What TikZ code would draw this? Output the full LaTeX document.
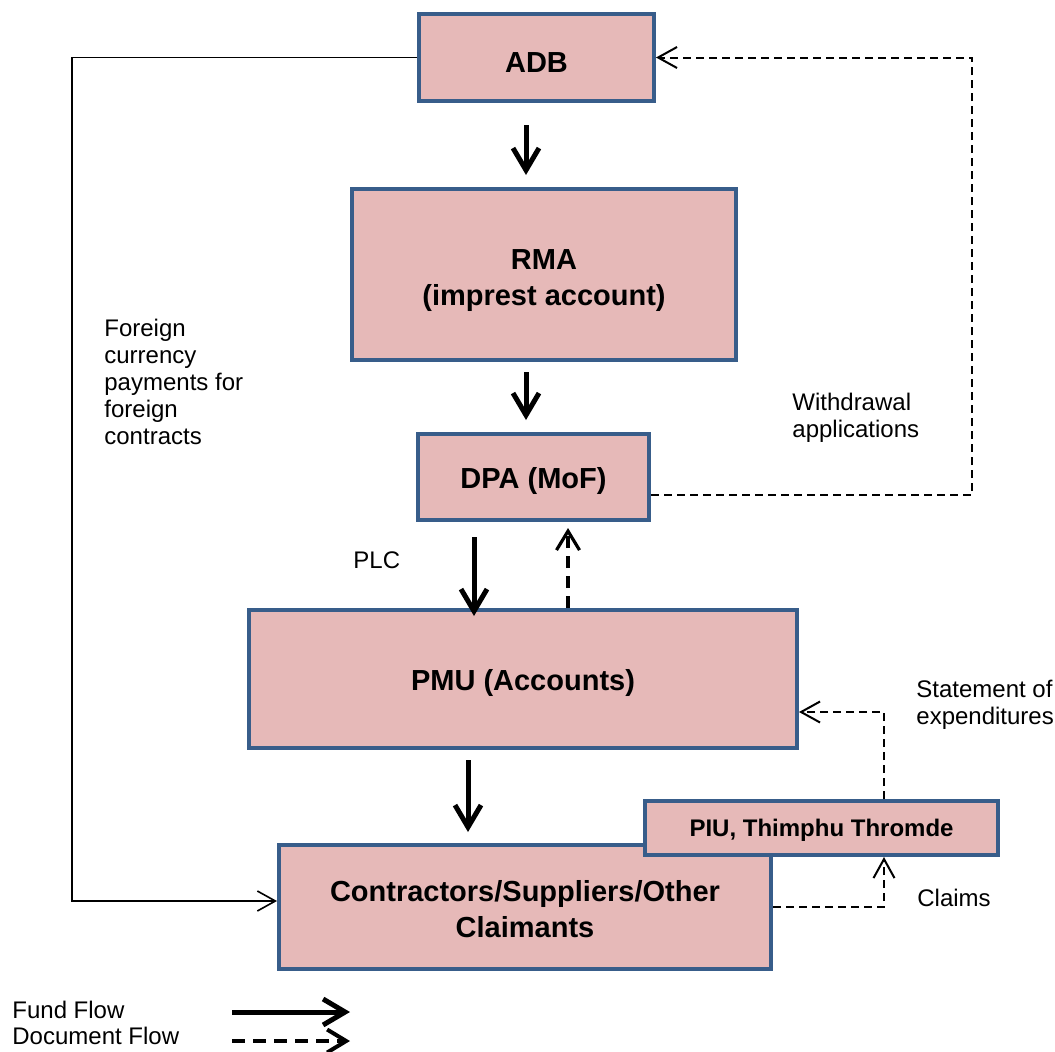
\documentclass[tikz,border=0pt]{standalone}
\usepackage{fontspec}
\setmainfont{Liberation Sans}
\usetikzlibrary{arrows.meta, positioning, calc}
\definecolor{boxFill}{RGB}{230, 185, 184}
\definecolor{boxLine}{RGB}{56, 93, 138}

\begin{document}
\begin{tikzpicture}[
    x=0.5pt, y=-0.5pt,
    unit/.style={rectangle, draw=boxLine, line width=2pt, fill=boxFill, align=center, font=\fontsize{14.5}{18}\selectfont\bfseries},
    oneline/.style={unit, text height=14.5pt},
    lbl/.style={inner sep=0pt, align=left, anchor=west, font=\fontsize{12}{13.5}\selectfont},
    fund/.style={-{Straight Barb[length=11pt, width=13pt]}, line width=2.5pt},
    docthick/.style={-{Straight Barb[length=9.5pt, width=11.5pt]}, line width=1.6pt, dash pattern=on 6pt off 4pt},
    doc/.style={-{Straight Barb[length=9.5pt, width=10.5pt]}, line width=1pt, dash pattern=on 4pt off 2.5pt},
    pay/.style={-{Straight Barb[length=9pt, width=10pt]}, line width=0.8pt}
]
    \useasboundingbox (0,0) rectangle (1055,1051);

    % Units
    \node[oneline, minimum width=117.5pt, minimum height=43.5pt] (adb) at (536.5,57.5) {ADB};
    \node[unit, minimum width=192pt, minimum height=85.5pt, text height=33.5pt] (rma) at (544,274.5) {RMA\\(imprest account)};
    \node[oneline, minimum width=115.5pt, minimum height=43pt] (dpa) at (533.5,477) {DPA (MoF)};
    \node[oneline, minimum width=274pt, minimum height=69pt] (pmu) at (523,679) {PMU (Accounts)};
    \node[unit, minimum width=246pt, minimum height=62pt, text height=31pt] (con) at (525,907) {Contractors/Suppliers/Other\\Claimants};
    \node[oneline, minimum width=176.5pt, minimum height=27pt, text height=11pt, font=\fontsize{12}{14}\selectfont\bfseries] (piu) at (821.5,828) {PIU, Thimphu Thromde};

    % Labels
    \node[lbl] (fx) at (104,381.5) {Foreign\\currency\\payments for\\foreign\\contracts};
    \node[lbl] (wa) at (792,417.5) {Withdrawal\\applications};
    \node[lbl] (plc) at (353,560) {PLC};
    \node[lbl] (soe) at (916,704.5) {Statement of\\expenditures};
    \node[lbl] (clm) at (917,898) {Claims};

    % Fund flow
    \draw[fund, shorten <=11pt, shorten >=6pt] (adb.south -| 526,0) -- (rma.north -| 526,0);
    \draw[fund, shorten <=5pt, shorten >=6pt] (rma.south -| 526,0) -- (dpa.north -| 526,0);
    \draw[fund, shorten <=7.5pt, shorten >=-4pt] (dpa.south -| 474,0) -- (pmu.north -| 474,0);
    \draw[fund, shorten <=5pt, shorten >=5.5pt] (pmu.south -| 468,0) -- (con.north -| 468,0);
    \draw[pay] (adb.west) -- ++(-345,0) |- ([yshift=3pt]con.west);

    % Document flow
    \draw[docthick, shorten >=3pt] (pmu.north -| 568,0) -- (dpa.south -| 568,0);
    \draw[doc] ([yshift=-9pt]dpa.east) -- ++(321,0) |- (adb.east);
    \draw[doc] (con.east) -| ([xshift=31.25pt]piu.south);
    \draw[doc] ([xshift=31.25pt]piu.north) |- ([yshift=-16.5pt]pmu.east);

    % Legend
    \node[lbl] (fundlbl) at (12,1010) {Fund Flow};
    \node[lbl] (doclbl) at (12,1036) {Document Flow};
    \draw[fund] (fundlbl.west) ++(220,2) -- ++(118,0);
    \draw[docthick, line width=2pt, dash pattern=on 6.5pt off 4pt] (doclbl.west) ++(220,5) -- ++(118,0);

\end{tikzpicture}
\end{document}
